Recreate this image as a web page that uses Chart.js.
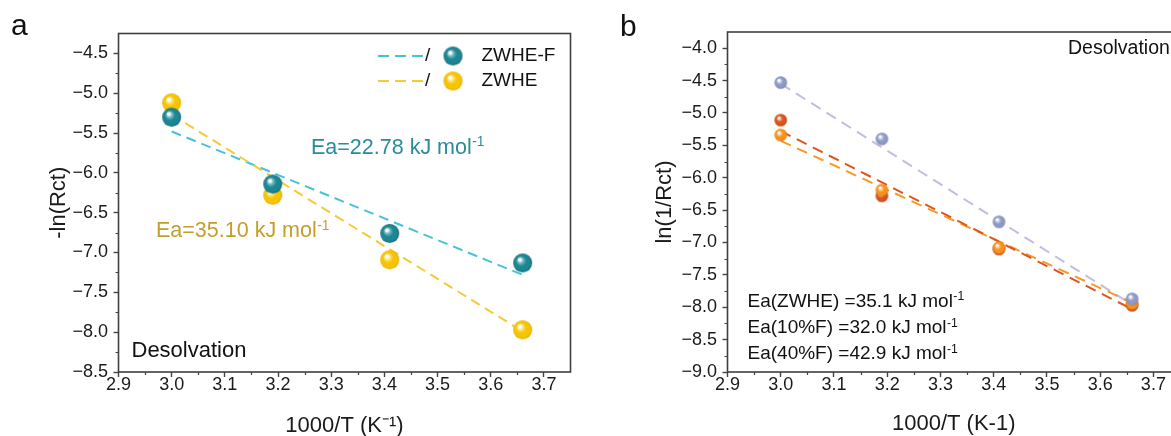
<!DOCTYPE html>
<html><head><meta charset="utf-8">
<script src="https://cdn.jsdelivr.net/npm/chart.js@4.4.1/dist/chart.umd.min.js"></script>
<style>
html,body{margin:0;padding:0;background:#fff;}
body{width:1171px;height:436px;overflow:hidden;position:relative;}
#ca{position:absolute;left:0;top:0;}
#cb{position:absolute;left:590px;top:0;}
</style></head><body>
<canvas id="ca" width="590" height="450"></canvas>
<canvas id="cb" width="620" height="450"></canvas>
<script>
// ---------- data ----------
const xVals = [3.00, 3.19, 3.41, 3.66];
const xTicks = [2.9, 3.0, 3.1, 3.2, 3.3, 3.4, 3.5, 3.6, 3.7];
const yTicksA = [-8.5, -8.0, -7.5, -7.0, -6.5, -6.0, -5.5, -5.0, -4.5];
const yTicksB = [-9.0, -8.5, -8.0, -7.5, -7.0, -6.5, -6.0, -5.5, -5.0, -4.5, -4.0];
// panel a
const aZWHEF = [-5.30, -6.14, -6.76, -7.13];
const aZWHE  = [-5.12, -6.28, -7.09, -7.97];
const fitX = [3.00, 3.66];
const aFitZWHEF = [-5.48, -7.28];
const aFitZWHE  = [-5.27, -7.99];
// panel b
const bZWHE = [-5.11, -6.28, -7.10, -7.97];
const b10F  = [-5.34, -6.19, -7.08, -7.94];
const b40F  = [-4.53, -5.40, -6.68, -7.87];
const bFitZWHE = [-5.28, -8.03];
const bFit10F  = [-5.43, -7.93];
const bFit40F  = [-4.55, -7.96];

const FONT = '"Liberation Sans", Arial, Helvetica, sans-serif';

function sphere(r, light, base, dark) {
  const c = document.createElement('canvas');
  const s = Math.ceil(2 * r + 2);
  c.width = c.height = s;
  const g = c.getContext('2d');
  const cx = s / 2, cy = s / 2;
  const grad = g.createRadialGradient(cx - r * 0.35, cy - r * 0.4, 0, cx, cy, r);
  grad.addColorStop(0, '#ffffff');
  grad.addColorStop(0.14, '#ffffff');
  grad.addColorStop(0.3, light);
  grad.addColorStop(0.55, base);
  grad.addColorStop(0.85, base);
  grad.addColorStop(1, dark);
  g.fillStyle = grad;
  g.beginPath(); g.arc(cx, cy, r, 0, Math.PI * 2); g.fill();
  return c;
}
const SPH = {
  teal: sphere(9.5, '#6fb9c3', '#1c8693', '#136570'),
  yellow: sphere(9.5, '#fde27a', '#f6c400', '#e2aa00'),
  purple: sphere(6.3, '#c6cbe6', '#8f99c6', '#737ead'),
  red: sphere(6.3, '#ee9c78', '#d8531d', '#b44012'),
  orange: sphere(6.3, '#ffc68a', '#f6911d', '#d9770c')
};

const pts = (xs, ys) => xs.map((x, i) => ({x: x, y: ys[i]}));

function drawText(ctx, t) {
  ctx.save();
  ctx.fillStyle = t.color || '#111';
  ctx.font = t.size + 'px ' + FONT;
  ctx.textBaseline = t.baseline || 'middle';
  ctx.textAlign = 'left';
  ctx.fillText(t.text, t.x, t.y);
  if (t.sup) {
    const w = ctx.measureText(t.text).width;
    ctx.font = (t.size * 0.64).toFixed(1) + 'px ' + FONT;
    ctx.fillText(t.sup, t.x + w + 0.5, t.y - t.size * 0.25);
  }
  ctx.restore();
}

const decor = {
  id: 'decor',
  afterDraw(chart, args, o) {
    const ctx = chart.ctx, a = chart.chartArea, xs = chart.scales.x, ys = chart.scales.y;
    ctx.save();
    // minor ticks
    ctx.strokeStyle = '#444'; ctx.lineWidth = 1.2;
    const xt = xs.ticks.map(t => t.value), yt = ys.ticks.map(t => t.value);
    ctx.beginPath();
    for (let i = 0; i < xt.length - 1; i++) {
      const p = Math.round(xs.getPixelForValue((xt[i] + xt[i + 1]) / 2)) + 0.5;
      ctx.moveTo(p, a.bottom); ctx.lineTo(p, a.bottom + 3);
    }
    for (let i = 0; i < yt.length - 1; i++) {
      const p = Math.round(ys.getPixelForValue((yt[i] + yt[i + 1]) / 2)) + 0.5;
      ctx.moveTo(a.left, p); ctx.lineTo(a.left - 3, p);
    }
    ctx.stroke();
    // frame
    ctx.strokeStyle = '#3f3f3f'; ctx.lineWidth = 1.6;
    ctx.strokeRect(a.left, a.top, a.right - a.left, a.bottom - a.top);
    // texts
    (o.texts || []).forEach(t => drawText(ctx, t));
    // legend
    (o.legend || []).forEach(L => {
      ctx.save();
      ctx.strokeStyle = L.lineColor; ctx.lineWidth = 2; ctx.setLineDash([11, 6]);
      ctx.beginPath(); ctx.moveTo(L.x, L.y); ctx.lineTo(L.x + 45, L.y); ctx.stroke();
      ctx.setLineDash([]);
      ctx.fillStyle = '#111'; ctx.font = '19px ' + FONT; ctx.textBaseline = 'middle';
      ctx.fillText('/', L.x + 47, L.y);
      ctx.drawImage(L.img, L.x + 75 - L.img.width / 2, L.y - L.img.height / 2);
      ctx.fillText(L.label, L.x + 103.5, L.y);
      ctx.restore();
    });
    ctx.restore();
  }
};

function makeChart(id, cfg) {
  return new Chart(document.getElementById(id), {
    type: 'scatter',
    data: {datasets: cfg.datasets},
    options: {
      responsive: false, animation: false, devicePixelRatio: 1,
      layout: {padding: {top: cfg.padTop, right: cfg.padRight, left: 0, bottom: 0}},
      plugins: {legend: {display: false}, tooltip: {enabled: false}, decor: cfg.decor},
      scales: {
        x: {
          type: 'linear', min: 2.9, max: 3.75,
          afterBuildTicks: s => { s.ticks = xTicks.map(v => ({value: v})); },
          afterFit: s => { s.height = cfg.xH; },
          grid: {drawOnChartArea: false, drawTicks: true, tickLength: 5, tickColor: '#444', tickWidth: 1.4},
          border: {display: false},
          ticks: {color: '#1a1a1a', font: {family: FONT, size: 18}, padding: -3, maxRotation: 0, autoSkip: false,
                  callback: v => Number(v).toFixed(1)},
          title: {display: true, text: cfg.xTitle, color: '#1a1a1a', font: {family: FONT, size: 22},
                  padding: {top: 0, bottom: cfg.xTitlePad}}
        },
        y: {
          type: 'linear', min: cfg.yMin, max: cfg.yMax,
          afterBuildTicks: s => { s.ticks = cfg.yTicks.map(v => ({value: v})); },
          afterFit: s => { s.width = cfg.yW; },
          grid: {drawOnChartArea: false, drawTicks: true, tickLength: 5, tickColor: '#444', tickWidth: 1.4},
          border: {display: false},
          ticks: {color: '#1a1a1a', font: {family: FONT, size: 18}, padding: 5.5, autoSkip: false,
                  callback: v => (v < 0 ? '\u2212' : '') + Math.abs(Number(v)).toFixed(1)},
          title: {display: true, text: cfg.yTitle, color: '#1a1a1a', font: {family: FONT, size: 22},
                  padding: {top: cfg.yTitlePad, bottom: 0}}
        }
      }
    },
    plugins: [decor]
  });
}

const fitDs = (ys, color, order, dash) => ({
  data: pts(fitX, ys), showLine: true, borderColor: color, borderWidth: 2, borderDash: dash,
  pointRadius: 0, fill: false, order: order
});
const ptDs = (ys, img, r, order) => ({
  data: pts(xVals, ys), showLine: false, pointStyle: img, pointRadius: r, order: order
});

// ---------- panel a ----------
makeChart('ca', {
  padTop: 33.5, padRight: 19.5, yW: 118.5, xH: 78,
  yMin: -8.5, yMax: -4.25, yTicks: yTicksA,
  xTitle: '1000/T (K\u207B\u00B9)', xTitlePad: 10.8,
  yTitle: '-ln(Rct)', yTitlePad: 45.5,
  datasets: [
    fitDs(aFitZWHEF, '#47c2d9', 11, [10, 6]),
    fitDs(aFitZWHE, '#f4ca38', 10, [10, 6]),
    ptDs(aZWHE, SPH.yellow, 9.5, 2),
    ptDs(aZWHEF, SPH.teal, 9.5, 1)
  ],
  decor: {
    texts: [
      {text: 'a', x: 11, y: 35, size: 30, baseline: 'alphabetic', color: '#111'},
      {text: 'Desolvation', x: 131.5, y: 351, size: 22, color: '#111'},
      {text: 'Ea=22.78 kJ mol', sup: '-1', x: 311, y: 148, size: 21.5, color: '#2a8c9a'},
      {text: 'Ea=35.10 kJ mol', sup: '-1', x: 156, y: 231.5, size: 21.5, color: '#c49e2a'}
    ],
    legend: [
      {x: 378, y: 56, lineColor: '#47c2d9', img: SPH.teal, label: 'ZWHE-F'},
      {x: 378, y: 81, lineColor: '#f4ca38', img: SPH.yellow, label: 'ZWHE'}
    ]
  }
});

// ---------- panel b ----------
makeChart('cb', {
  padTop: 32, padRight: 30, yW: 137.5, xH: 78,
  yMin: -9.0, yMax: -3.75, yTicks: yTicksB,
  xTitle: '1000/T (K-1)', xTitlePad: 12.8,
  yTitle: 'ln(1/Rct)', yTitlePad: 61.5,
  datasets: [
    fitDs(bFit40F, '#c3bcde', 12, [11, 7]),
    fitDs(bFit10F, '#f59a28', 11, [11, 7]),
    fitDs(bFitZWHE, '#df551f', 10, [11, 7]),
    ptDs(bZWHE, SPH.red, 6.3, 3),
    ptDs(b10F, SPH.orange, 6.3, 2),
    ptDs(b40F, SPH.purple, 6.3, 1)
  ],
  decor: {
    texts: [
      {text: 'b', x: 30, y: 35.5, size: 30, baseline: 'alphabetic', color: '#111'},
      {text: 'Desolvation', x: 478, y: 49, size: 19.5, color: '#111'},
      {text: 'Ea(ZWHE) =35.1 kJ mol', sup: '-1', x: 157.5, y: 301.5, size: 19, color: '#111'},
      {text: 'Ea(10%F) =32.0 kJ mol', sup: '-1', x: 157.5, y: 328, size: 19, color: '#111'},
      {text: 'Ea(40%F) =42.9 kJ mol', sup: '-1', x: 157.5, y: 354, size: 19, color: '#111'}
    ]
  }
});
</script></body></html>
